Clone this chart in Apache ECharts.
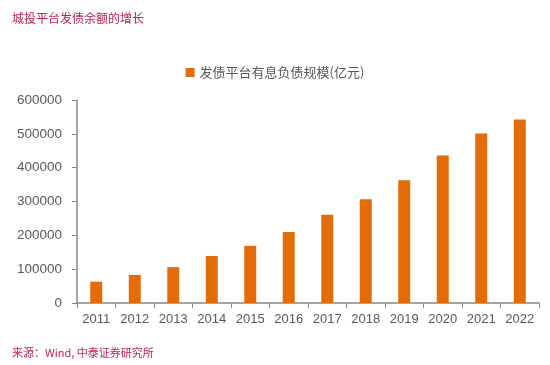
<!DOCTYPE html>
<html><head><meta charset="utf-8">
<script src="https://cdn.jsdelivr.net/npm/echarts@6/dist/echarts.min.js"></script>
<style>html,body{margin:0;padding:0;background:#fff}#c{width:550px;height:365px}</style>
</head><body><div id="c"></div>
<script>
var categories = ['2011','2012','2013','2014','2015','2016','2017','2018','2019','2020','2021','2022'];
var debtValues = [63000, 83000, 106000, 139000, 169000, 210000, 261000, 307000, 363000, 436000, 501000, 542000];
var seriesName = '发债平台有息负债规模(亿元)';
var titleText = '城投平台发债余额的增长';
var sourceText = '来源：Wind, 中泰证券研究所';

var chart = echarts.init(document.getElementById('c'));
chart.setOption({
  animation: false,
  backgroundColor: '#fff',
  title: [
    {text: titleText, left: 7, top: 7, textStyle: {color: '#C0214B', fontSize: 12, fontWeight: 'normal', fontFamily: 'Noto Sans CJK SC'}},
    {text: sourceText, left: 7, top: 342, textStyle: {color: '#C0214B', fontSize: 11, fontWeight: 'normal', fontFamily: 'Noto Sans CJK SC'}}
  ],
  legend: {
    top: 61, left: 'center',
    itemWidth: 9, itemHeight: 9, icon: 'rect', itemGap: 6,
    textStyle: {color: '#595959', fontSize: 13, fontFamily: 'Noto Sans CJK SC'},
    data: [seriesName]
  },
  grid: {left: 77, right: 11, top: 100, bottom: 62},
  xAxis: {
    type: 'category', data: categories,
    axisLine: {lineStyle: {color: '#888', width: 1.5}},
    axisTick: {show: true, length: 5, lineStyle: {color: '#888'}},
    axisLabel: {color: '#595959', fontSize: 13, margin: 10, fontFamily: 'Liberation Sans'}
  },
  yAxis: {
    type: 'value', min: 0, max: 600000, interval: 100000,
    axisLine: {show: true, lineStyle: {color: '#888', width: 1.5}},
    axisTick: {show: true, length: 5, lineStyle: {color: '#888'}},
    splitLine: {show: false},
    axisLabel: {color: '#595959', fontSize: 13.5, margin: 15, fontFamily: 'Liberation Sans', formatter: function (v) { return String(v); }}
  },
  series: [{
    name: seriesName, type: 'bar', data: debtValues,
    barWidth: 12,
    itemStyle: {color: '#E36C09'}
  }]
});
</script></body></html>
